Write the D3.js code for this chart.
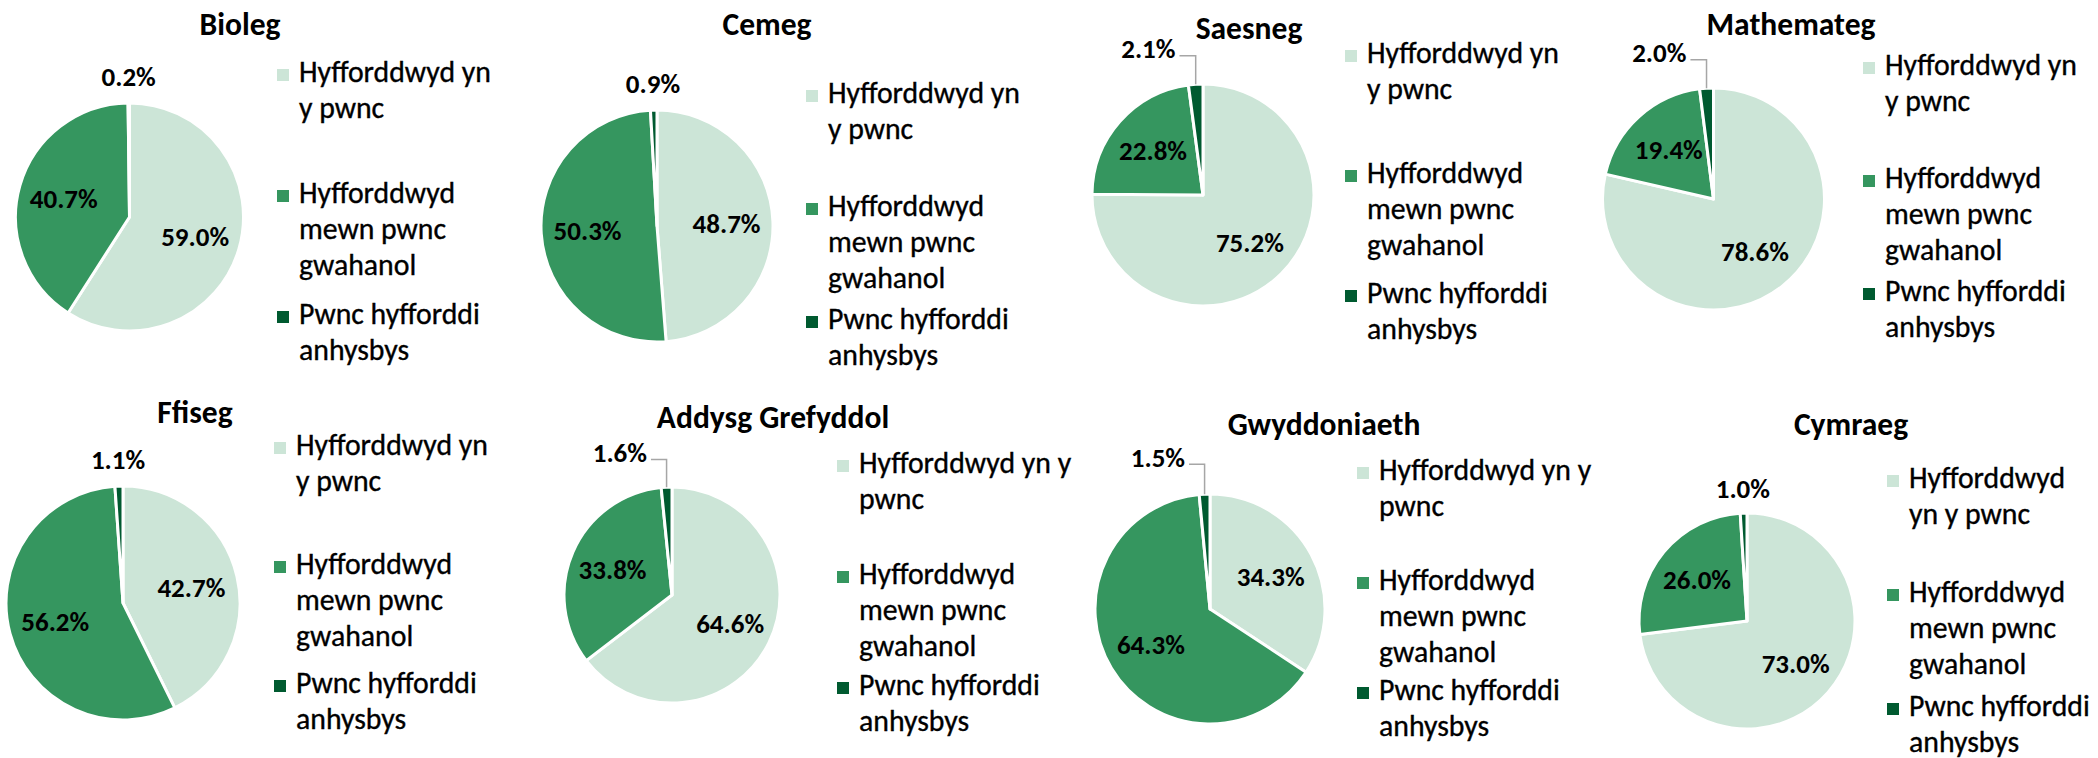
<!DOCTYPE html>
<meta charset="utf-8">
<style>
  body { margin: 0; background: #fff; }
  svg text { font-family: Calibri, Carlito, Lato, sans-serif; fill: #000; }
  svg text.legend { stroke: #000; stroke-width: 0.35px; }
</style>
<body>
<script src="https://cdn.jsdelivr.net/npm/d3@7"></script>
<script>
// values (percent of teachers)
const subjects = ["Bioleg", "Cemeg", "Saesneg", "Mathemateg", "Ffiseg", "Addysg Grefyddol", "Gwyddoniaeth", "Cymraeg"];
const categories = ["Hyfforddwyd yn y pwnc", "Hyfforddwyd mewn pwnc gwahanol", "Pwnc hyfforddi anhysbys"];
const trainedInSubject = [59.0, 48.7, 75.2, 78.6, 42.7, 64.6, 34.3, 73.0];
const trainedOther     = [40.7, 50.3, 22.8, 19.4, 56.2, 33.8, 64.3, 26.0];
const unknownSubject   = [0.2, 0.9, 2.1, 2.0, 1.1, 1.6, 1.5, 1.0];

// panel layout (pie centre, radius, title, legend placement)
const panels = [
  {cx: 129.5, cy: 217, r: 114, tx: 240,  ty: 35,  lx: 277,  ly: 82,  step: 121, wrap: 200, leader: false},
  {cx: 657,   cy: 226, r: 116, tx: 767,  ty: 35,  lx: 806,  ly: 103, step: 113, wrap: 200, leader: false},
  {cx: 1203,  cy: 195, r: 111, tx: 1249, ty: 39,  lx: 1345, ly: 63,  step: 120, wrap: 200, leader: true},
  {cx: 1713.5,cy: 199, r: 111, tx: 1791, ty: 35,  lx: 1863, ly: 75,  step: 113, wrap: 200, leader: true},
  {cx: 123,   cy: 603, r: 117, tx: 195,  ty: 423, lx: 274,  ly: 455, step: 119, wrap: 200, leader: false},
  {cx: 672,   cy: 595, r: 108, tx: 773,  ty: 428, lx: 837,  ly: 473, step: 111, wrap: 230, leader: true},
  {cx: 1210,  cy: 609, r: 115, tx: 1324, ty: 435, lx: 1357, ly: 480, step: 110, wrap: 230, leader: true},
  {cx: 1747,  cy: 621, r: 108, tx: 1851, ty: 435, lx: 1887, ly: 488, step: 114, wrap: 187, leader: false}
];

const width = 2098, height = 758;
const svg = d3.select("body").append("svg").attr("width", width).attr("height", height);

const color = d3.scaleOrdinal().domain(categories).range(["#cce5d7", "#35965f", "#005a30"]);
const pie = d3.pie().sort(null).value(d => d.value);

// size fonts so the text runs as wide as in the picture
function fitFont(txt, weight, target) {
  const t = svg.append("text").attr("font-weight", weight).attr("font-size", 100).text(txt);
  const w = t.node().getComputedTextLength();
  t.remove();
  return 100 * target / w;
}
const legendSize = fitFont("Hyfforddwyd yn", 400, 192);
const labelSize = fitFont("59.0%", 700, 68);
const titleSize = fitFont("Mathemateg", 700, 169);

function wrapWords(str, maxW) {
  const words = str.split(" ");
  const t = svg.append("text").attr("font-size", legendSize);
  const lines = [];
  let line = [];
  words.forEach(w => {
    const test = line.concat([w]).join(" ");
    t.text(test);
    if (line.length && t.node().getComputedTextLength() > maxW) {
      lines.push(line.join(" "));
      line = [w];
    } else line.push(w);
  });
  lines.push(line.join(" "));
  t.remove();
  return lines;
}

const series = [trainedInSubject, trainedOther, unknownSubject];

panels.forEach((p, i) => {
  const data = categories.map((c, k) => ({cat: c, value: series[k][i]}));
  const arcs = pie(data);

  svg.append("text")
    .attr("x", p.tx).attr("y", p.ty)
    .attr("text-anchor", "middle")
    .attr("font-weight", 700)
    .attr("font-size", titleSize)
    .text(subjects[i]);

  const g = svg.append("g").attr("transform", `translate(${p.cx},${p.cy})`);
  const arc = d3.arc().innerRadius(0).outerRadius(p.r);
  const labelArc = d3.arc().innerRadius(p.r * 0.6).outerRadius(p.r * 0.6);

  g.selectAll("path")
    .data(arcs)
    .join("path")
    .attr("d", arc)
    .attr("fill", d => color(d.data.cat))
    .attr("stroke", "#fff")
    .attr("stroke-width", 3)
    .attr("stroke-linejoin", "round");

  arcs.forEach(d => {
    const txt = d.data.value.toFixed(1) + "%";
    if (d.data.value >= 5) {
      const [x, y] = labelArc.centroid(d);
      g.append("text")
        .attr("x", x).attr("y", y)
        .attr("text-anchor", "middle")
        .attr("dominant-baseline", "central")
        .attr("font-weight", 700)
        .attr("font-size", labelSize)
        .text(txt);
    } else {
      // small slice: label sits outside, some with a leader line
      const mid = (d.startAngle + d.endAngle) / 2;
      const k = p.leader ? 1.32 : 1.23;
      const x = Math.sin(mid) * p.r * k + (p.leader ? -45 : 0);
      const y = -Math.cos(mid) * p.r * k;
      const t = g.append("text")
        .attr("x", x).attr("y", y)
        .attr("text-anchor", "middle")
        .attr("dominant-baseline", "central")
        .attr("font-weight", 700)
        .attr("font-size", labelSize)
        .text(txt);
      if (p.leader) {
        const w = t.node().getComputedTextLength();
        const ex = Math.sin(mid) * p.r, ey = -Math.cos(mid) * p.r;
        const ly = y + 7;
        g.append("polyline")
          .attr("points", [[x + w / 2 + 4, ly], [ex, ly], [ex, ey]].map(q => q.join(",")).join(" "))
          .attr("fill", "none")
          .attr("stroke", "#a6a6a6")
          .attr("stroke-width", 1.5);
      }
    }
  });

  // legend
  categories.forEach((c, k) => {
    const y0 = p.ly + k * p.step;
    svg.append("rect")
      .attr("x", p.lx).attr("y", y0 - 13)
      .attr("width", 12).attr("height", 12)
      .attr("fill", color(c));
    const t = svg.append("text")
      .attr("class", "legend")
      .attr("x", p.lx + 22).attr("y", y0)
      .attr("font-size", legendSize);
    wrapWords(c, p.wrap).forEach((line, j) => {
      t.append("tspan").attr("x", p.lx + 22).attr("y", y0 + j * 36).text(line);
    });
  });
});
</script>
</body>
